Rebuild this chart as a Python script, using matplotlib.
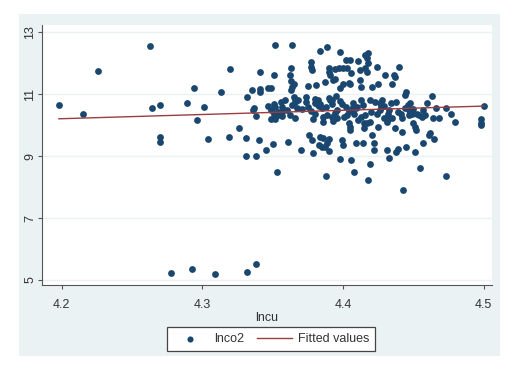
"""Scatter of lnco2 against lncu with a linear fit, Stata s2color look."""

import matplotlib

matplotlib.use("Agg")
import matplotlib.pyplot as plt  # noqa: E402

plt.rcParams["font.family"] = ["Liberation Sans", "DejaVu Sans"]

# --- Data ------------------------------------------------------------

LNCU = [
    4.198, 4.215, 4.226, 4.263, 4.264, 4.270, 4.270, 4.270, 4.278, 4.289,
    4.294, 4.296, 4.293, 4.301, 4.304, 4.309, 4.313, 4.319, 4.320, 4.326,
    4.331, 4.331, 4.332, 4.332, 4.335, 4.336, 4.337, 4.338, 4.338, 4.338,
    4.340, 4.341, 4.341, 4.341, 4.345, 4.347, 4.349, 4.347, 4.350, 4.351,
    4.352, 4.353,
    4.349, 4.351, 4.352, 4.354, 4.356, 4.357, 4.359, 4.360, 4.357, 4.352,
    4.349, 4.351, 4.354, 4.357, 4.362, 4.364, 4.366, 4.367, 4.368, 4.366,
    4.361, 4.362, 4.363, 4.364, 4.363, 4.364, 4.365, 4.363, 4.365, 4.366,
    4.370,
    4.374, 4.374, 4.375, 4.375, 4.377, 4.377, 4.378, 4.376, 4.378, 4.379,
    4.380, 4.380, 4.380, 4.381, 4.382, 4.383, 4.384, 4.384, 4.385, 4.386,
    4.386, 4.386, 4.387, 4.387, 4.388, 4.389, 4.389, 4.390, 4.390, 4.391,
    4.390, 4.391, 4.392, 4.393, 4.389, 4.390, 4.390, 4.384, 4.385, 4.383,
    4.392, 4.393, 4.394, 4.394, 4.395, 4.396, 4.396, 4.397, 4.398, 4.398,
    4.398, 4.398, 4.399, 4.400, 4.400, 4.400,
    4.402, 4.403, 4.404, 4.405, 4.405, 4.406, 4.402, 4.403, 4.404, 4.405,
    4.405, 4.406, 4.406, 4.407, 4.407, 4.408, 4.408, 4.409, 4.410, 4.411,
    4.412, 4.412, 4.413, 4.413, 4.413, 4.414, 4.415, 4.415, 4.416, 4.416,
    4.417, 4.418, 4.418, 4.419, 4.419, 4.417, 4.417, 4.416, 4.418, 4.419,
    4.421, 4.421, 4.422, 4.422, 4.423, 4.424, 4.424, 4.425, 4.425, 4.426,
    4.426, 4.428, 4.429, 4.430, 4.431, 4.431, 4.432, 4.432, 4.433, 4.434,
    4.435, 4.435, 4.436, 4.437, 4.437, 4.438, 4.438, 4.439, 4.440, 4.441,
    4.442, 4.442, 4.443, 4.444, 4.445, 4.445, 4.446, 4.447, 4.447, 4.448,
    4.449, 4.450, 4.451, 4.451, 4.452, 4.453, 4.454, 4.455, 4.456, 4.457,
    4.457, 4.458, 4.460, 4.461, 4.462, 4.463, 4.464, 4.465, 4.466, 4.468,
    4.473, 4.473, 4.477, 4.480, 4.498, 4.498, 4.498, 4.500,
    # extra points filling the dense band
    4.371, 4.377, 4.382, 4.388, 4.394, 4.399, 4.404, 4.409, 4.414, 4.420,
    4.427, 4.433, 4.439, 4.444, 4.450, 4.379, 4.392, 4.401, 4.411, 4.429,
]
LNCO2 = [
    10.64, 10.37, 11.75, 12.57, 10.56, 10.66, 9.63, 9.45, 5.24, 10.72,
    11.19, 10.17, 5.37, 10.59, 9.56, 5.20, 11.06, 9.61, 11.82, 9.91,
    9.60, 9.00, 10.91, 5.26, 11.14, 10.49, 10.57, 10.30, 9.00, 5.51,
    9.53, 11.08, 11.72, 11.16, 9.19, 11.21, 11.22, 10.62, 9.38, 11.62,
    12.58, 8.50,
    10.49, 10.69, 10.58, 10.33, 10.76, 10.60, 10.81, 10.49, 10.30, 10.19,
    10.19, 10.38, 10.44, 10.42, 10.33, 10.65, 10.76, 10.55, 10.81, 10.22,
    9.47, 11.63, 11.84, 12.61, 11.43, 11.25, 11.35, 11.14, 10.90, 10.85,
    9.20,
    10.92, 10.76, 11.27, 10.60, 12.05, 11.89, 11.78, 9.68, 9.52, 9.09,
    10.86, 10.38, 10.71, 11.30, 10.81, 10.62, 10.69, 12.41, 10.55, 10.28,
    10.12, 9.60, 11.41, 9.31, 8.37, 9.42, 12.52, 11.84, 11.73, 11.62,
    10.87, 10.81, 10.28, 10.14, 10.33, 9.56, 9.18, 9.63, 9.31, 9.36,
    10.81, 11.46, 11.81, 11.51, 10.94, 10.49, 10.22, 11.84, 11.19, 12.38,
    8.90, 10.79, 9.52, 9.37, 11.84, 11.35,
    12.11, 11.84, 11.37, 11.33, 12.11, 11.68, 10.60, 10.33, 10.06, 9.95,
    9.85, 8.88, 10.49, 10.71, 10.60, 10.36, 8.50, 9.42, 10.60, 12.09,
    11.78, 11.46, 11.25, 10.81, 10.28, 9.42, 10.06, 9.90, 11.84, 12.27,
    12.16, 12.32, 12.00, 10.81, 10.12, 11.73, 10.06, 10.33, 8.23, 8.74,
    11.25, 9.68, 9.42, 9.20, 10.76, 10.38, 11.89, 11.35, 9.95, 10.71,
    10.49, 10.81, 10.22, 11.62, 10.12, 9.20, 10.38, 10.20, 8.93, 10.71,
    10.22, 11.35, 11.62, 9.90, 11.57, 10.76, 9.15, 9.25, 11.89, 10.38,
    10.22, 9.79, 7.91, 10.98, 9.31, 11.06, 10.65, 10.49, 10.33, 10.71,
    10.38, 10.06, 9.15, 9.95, 9.85, 10.38, 10.33, 8.61, 10.28, 10.49,
    9.42, 10.33, 10.71, 9.68, 9.74, 10.95, 10.22, 9.56, 10.55, 10.22,
    10.55, 8.36, 10.36, 10.12, 10.20, 10.06, 10.01, 10.62,
    10.52, 10.45, 10.66, 10.58, 10.40, 10.68, 10.47, 10.55, 10.64, 10.43,
    10.58, 10.50, 10.44, 10.56, 10.52, 10.20, 10.70, 10.26, 10.18, 10.62,
]

# fitted line end points
FIT_X = [4.198, 4.500]
FIT_Y = [10.21, 10.62]

X_TICKS = [4.2, 4.3, 4.4, 4.5]
Y_TICKS = [5, 7, 9, 11, 13]

NAVY = "#1a476f"
MAROON = "#9a3c40"
BG = "#eaf2f3"
AXIS_GREY = "#555555"
TEXT = "#333333"


def main() -> None:
    fig = plt.figure(figsize=(5.14, 3.78), dpi=100)
    fig.patch.set_facecolor("white")

    # light blue-grey graph region behind the plot area
    bg_ax = fig.add_axes([19 / 514, 22 / 378, 481 / 514, 342 / 378],
                         zorder=-1)
    bg_ax.set_facecolor(BG)
    bg_ax.set_xticks([])
    bg_ax.set_yticks([])
    for sp in bg_ax.spines.values():
        sp.set_visible(False)

    ax = fig.add_axes([42 / 514, 93 / 378, 450 / 514, 260 / 378])
    ax.set_facecolor("white")

    for y in Y_TICKS:
        ax.axhline(y, color=BG, linewidth=1.0, zorder=1)

    ax.scatter(LNCU, LNCO2, s=24, color=NAVY, linewidths=0, zorder=3,
               label="lnco2")
    ax.plot(FIT_X, FIT_Y, color=MAROON, linewidth=1.0, zorder=4,
            label="Fitted values")

    ax.set_xlim(4.186, 4.506)
    ax.set_ylim(4.84, 13.24)
    ax.set_xticks(X_TICKS)
    ax.set_xticklabels([f"{v:.1f}" for v in X_TICKS])
    ax.set_yticks(Y_TICKS)
    ax.set_yticklabels([str(v) for v in Y_TICKS], rotation=90, va="center")

    for side in ("top", "right"):
        ax.spines[side].set_visible(False)
    for side in ("left", "bottom"):
        ax.spines[side].set_color(AXIS_GREY)
        ax.spines[side].set_linewidth(0.8)
    ax.tick_params(axis="both", colors=AXIS_GREY, labelcolor=TEXT,
                   labelsize=9, length=3, width=0.8)
    ax.tick_params(axis="x", pad=7)
    ax.tick_params(axis="y", pad=1)

    ax.set_xlabel("lncu", fontsize=9, color=TEXT, labelpad=1)

    handles, labels = ax.get_legend_handles_labels()
    leg = fig.legend(handles, labels, loc="center",
                     bbox_to_anchor=(271 / 514, 39 / 378), ncol=2,
                     fontsize=9, frameon=True, fancybox=False,
                     handlelength=2.8, columnspacing=1.0,
                     handletextpad=0.5, borderpad=0.45, markerscale=0.9)
    leg.get_frame().set_edgecolor("#444444")
    leg.get_frame().set_linewidth(0.9)
    leg.get_frame().set_alpha(1.0)
    for t in leg.get_texts():
        t.set_color(TEXT)

    fig.savefig("out.png", dpi=100)
    plt.close(fig)


if __name__ == "__main__":
    main()
